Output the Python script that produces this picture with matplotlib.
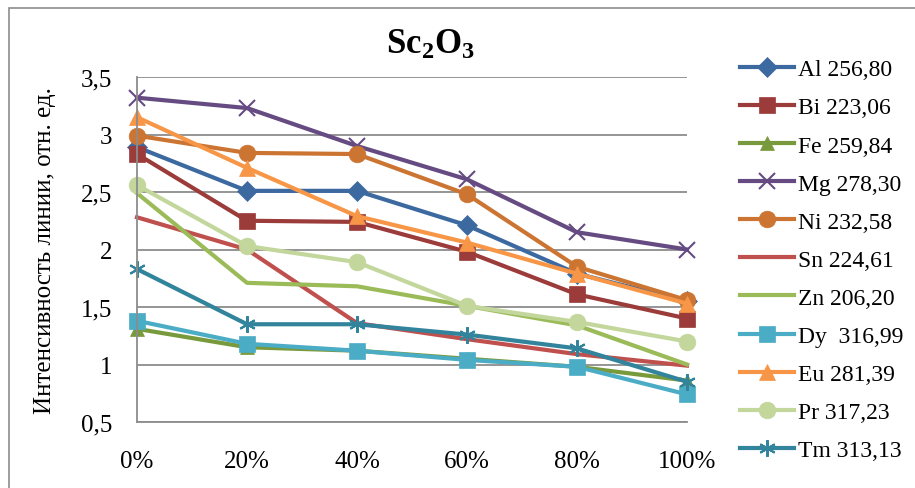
import numpy as np
import matplotlib.pyplot as plt
from matplotlib.patches import Rectangle
from matplotlib.ticker import FuncFormatter

plt.rcParams['font.family'] = ['Liberation Serif', 'DejaVu Serif']
plt.rcParams['mathtext.fontset'] = 'custom'
plt.rcParams['mathtext.rm'] = 'Liberation Serif'
plt.rcParams['mathtext.bf'] = 'Liberation Serif:bold'

# Доля добавки, %
x = [0, 20, 40, 60, 80, 100]
x_labels = ['0%', '20%', '40%', '60%', '80%', '100%']

# Интенсивность линий
al = [2.89, 2.51, 2.51, 2.21, 1.79, 1.55]
bi = [2.83, 2.25, 2.24, 1.98, 1.61, 1.40]
fe = [1.31, 1.15, 1.12, 1.05, 0.98, 0.86]
mg = [3.32, 3.23, 2.90, 2.61, 2.15, 2.00]
ni = [2.99, 2.84, 2.83, 2.48, 1.85, 1.56]
sn = [2.28, 2.00, 1.36, 1.22, 1.09, 0.99]
zn = [2.49, 1.71, 1.68, 1.51, 1.34, 1.00]
dy = [1.38, 1.18, 1.12, 1.04, 0.98, 0.74]
eu = [3.15, 2.71, 2.29, 2.06, 1.79, 1.53]
pr = [2.56, 2.03, 1.89, 1.51, 1.37, 1.20]
tm = [1.83, 1.35, 1.35, 1.26, 1.14, 0.85]

series = [
    ('Al 256,80', al, '#3C69A0', 'D', 10),
    ('Bi 223,06', bi, '#9B3B3A', 's', 12),
    ('Fe 259,84', fe, '#789A3C', '^', 10),
    ('Mg 278,30', mg, '#654B82', 'x', 12),
    ('Ni 232,58', ni, '#CC7532', 'o', 12),
    ('Sn 224,61', sn, '#C0504D', None, 0),
    ('Zn 206,20', zn, '#9BBB59', None, 0),
    ('Dy  316,99', dy, '#4BACC6', 's', 12),
    ('Eu 281,39', eu, '#F79646', '^', 12),
    ('Pr 317,23', pr, '#C3D69B', 'o', 12),
    ('Tm 313,13', tm, '#31849B', (6, 2, 0), 12),
]

fig = plt.figure(figsize=(9.15, 4.89), dpi=100)
ax = fig.add_axes([137 / 915, 1 - 423 / 489, 550 / 915, 345 / 489])

for name, vals, color, marker, ms in series:
    ax.plot(x, vals, color=color, lw=3, marker=marker, markersize=ms,
            markeredgewidth=1.5 if marker in ('x', (6, 2, 0)) else 0.5,
            markeredgecolor=color, markerfacecolor=color, label=name,
            solid_joinstyle='round', clip_on=False)

ax.set_xlim(0, 100)
ax.set_ylim(0.5, 3.5)
ax.set_xticks(x)
ax.set_xticklabels(x_labels)
ax.set_yticks(np.arange(0.5, 3.51, 0.5))
ax.yaxis.set_major_formatter(FuncFormatter(lambda v, p: f'{v:g}'.replace('.', ',')))
ax.tick_params(length=0, labelsize=18)
ax.tick_params(axis='y', pad=18)
ax.tick_params(axis='x', pad=20)
ax.grid(axis='y', color='#8C8C8C', lw=1.3)
ax.set_axisbelow(True)
for side in ('top', 'right'):
    ax.spines[side].set_visible(False)
for side in ('left', 'bottom'):
    ax.spines[side].set_color('#8C8C8C')
    ax.spines[side].set_linewidth(1.3)

ax.set_ylabel('Интенсивность линии, отн. ед.', fontsize=18)
ax.yaxis.set_label_coords(-0.148, 0.5)

fig.text(430 / 915, 1 - 45 / 489, r'$\mathbf{Sc_2O_3}$', fontsize=25,
         ha='center', va='center')

leg = fig.legend(loc='upper left', bbox_to_anchor=(721 / 915, 1 - 41 / 489),
                 frameon=False, fontsize=17, handlelength=2.3,
                 labelspacing=0.7, handletextpad=0.15, borderpad=0.3)

fig.patches.append(Rectangle((9 / 915, -0.1), 2, 1 - 9 / 489 + 0.1,
                             transform=fig.transFigure, fill=False,
                             edgecolor='#8C8C8C', lw=1.2))

fig.savefig('out.png', dpi=100)
